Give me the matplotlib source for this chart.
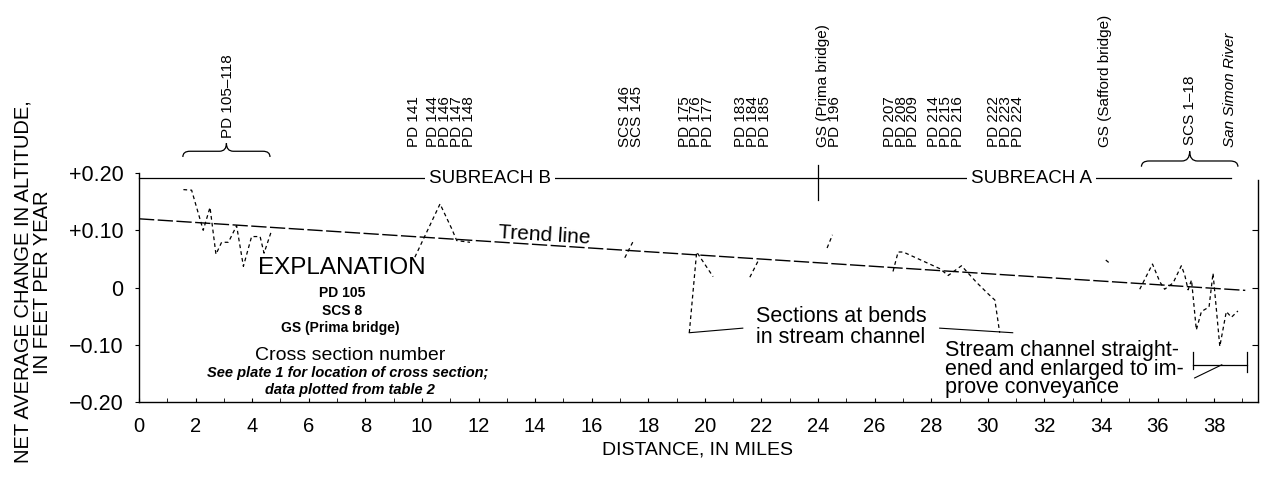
import numpy as np
import matplotlib.pyplot as plt
from matplotlib.path import Path
from matplotlib.patches import PathPatch
from matplotlib.ticker import MultipleLocator

plt.rcParams['font.family'] = ['Liberation Sans', 'DejaVu Sans']

# cross sections, distance in miles / net average change in ft per year
pd105_mi = [1.57, 1.86, 2.27, 2.51, 2.72, 2.92, 3.16, 3.45, 3.69, 3.98, 4.28, 4.42, 4.69]
pd105_val = [0.171, 0.170, 0.100, 0.140, 0.058, 0.079, 0.079, 0.108, 0.037, 0.089, 0.089, 0.060, 0.100]

pd141_mi = [9.75, 10.64, 11.05, 11.23, 11.70]
pd141_val = [0.053, 0.146, 0.103, 0.082, 0.079]

scs145_mi = [17.17, 17.49]
scs145_val = [0.052, 0.083]

pd175_mi = [19.45, 19.71, 20.29]
pd175_val = [-0.079, 0.062, 0.019]

pd183_mi = [21.59, 21.92]
pd183_val = [0.018, 0.050]

pd196_mi = [24.32, 24.51]
pd196_val = [0.069, 0.092]

pd207_mi = [26.65, 26.83, 27.01, 28.30, 28.60, 29.07, 29.60, 30.01, 30.25, 30.42]
pd207_val = [0.028, 0.062, 0.062, 0.033, 0.021, 0.038, 0.009, -0.011, -0.022, -0.079]

safford_mi = [34.17, 34.34]
safford_val = [0.048, 0.041]

scs1_mi = [35.37, 35.82, 36.08, 36.25, 36.55, 36.84, 36.96, 37.08, 37.20, 37.37,
           37.55, 37.82, 37.96, 38.20, 38.43, 38.61, 38.84]
scs1_val = [-0.003, 0.041, 0.010, -0.003, 0.008, 0.038, 0.022, -0.004, 0.013, -0.074,
            -0.042, -0.034, 0.025, -0.103, -0.042, -0.052, -0.041]

trend_mi = [0.0, 39.1]
trend_val = [0.12, -0.005]

subreach_val = 0.191
subreach_end = 38.6
subreach_split = 24.0

# cross section labels along the top, grouped as they are printed side by side
top_groups = [["PD 141"],
              ["PD 144", "PD 146", "PD 147", "PD 148"],
              ["SCS 146", "SCS 145"],
              ["PD 175", "PD 176", "PD 177"],
              ["PD 183", "PD 184", "PD 185"],
              ["GS (Prima bridge)", "PD 196"],
              ["PD 207", "PD 208", "PD 209"],
              ["PD 214", "PD 215", "PD 216"],
              ["PD 222", "PD 223", "PD 224"],
              ["GS (Safford bridge)"]]
top_group_mi = [[9.72],
                [10.39, 10.81, 11.24, 11.66],
                [17.17, 17.63],
                [19.29, 19.72, 20.10],
                [21.34, 21.70, 22.08],
                [24.17, 24.59],
                [26.54, 26.96, 27.35],
                [28.13, 28.52, 28.90],
                [30.25, 30.64, 31.02],
                [34.13]]

yticks = [0.2, 0.1, 0.0, -0.1, -0.2]
ytick_labels = ["+0.20", "+0.10", "0", "\u22120.10", "\u22120.20"]


def brace(ax, x0, x1, y_end, y_flat, y_tip):
    xm = (x0 + x1) / 2
    w = (x1 - x0) * 0.08
    verts = [(x0, y_end), (x0, y_flat), (x0 + w, y_flat),
             (xm - w, y_flat), (xm, y_flat), (xm, y_tip),
             (xm, y_flat), (xm + w, y_flat),
             (x1 - w, y_flat), (x1, y_flat), (x1, y_end)]
    codes = [Path.MOVETO, Path.CURVE3, Path.CURVE3,
             Path.LINETO, Path.CURVE3, Path.CURVE3,
             Path.CURVE3, Path.CURVE3,
             Path.LINETO, Path.CURVE3, Path.CURVE3]
    ax.add_patch(PathPatch(Path(verts, codes), fill=False, lw=0.9,
                           ec='black', clip_on=False))


fig = plt.figure(figsize=(12.67, 4.83), dpi=100)
ax = fig.add_axes([0.1097, 0.1677, 0.8832, 0.4741])
ax.set_xlim(0, 39.55)
ax.set_ylim(-0.2, 0.2)

dash = dict(color='black', lw=0.9, ls=(0, (3, 2.5)))
for xs, ys in [(pd105_mi, pd105_val), (pd141_mi, pd141_val), (scs145_mi, scs145_val),
               (pd175_mi, pd175_val), (pd183_mi, pd183_val), (pd196_mi, pd196_val),
               (pd207_mi, pd207_val), (safford_mi, safford_val), (scs1_mi, scs1_val)]:
    ax.plot(xs, ys, **dash)

ax.plot(trend_mi, trend_val, color='black', lw=1.0, ls=(0, (11, 2.5)))

# subreach line
ax.plot([0, subreach_end], [subreach_val, subreach_val], color='black', lw=0.9,
        clip_on=False)
ax.plot([subreach_split, subreach_split], [0.153, 0.214], color='black', lw=0.9,
        clip_on=False)
box = dict(facecolor='white', edgecolor='none', pad=3)
ax.text(12.4, subreach_val, "SUBREACH B", fontsize=13.5, ha='center', va='center',
        bbox=box, zorder=4)
ax.text(31.55, subreach_val, "SUBREACH A", fontsize=13.5, ha='center', va='center',
        bbox=box, zorder=4)

lab = dict(rotation=90, fontsize=11, ha='center', va='bottom', clip_on=False,
           multialignment='left', linespacing=0.8)
for names, mis in zip(top_groups, top_group_mi):
    ax.text(np.mean(mis), 0.245, "\n".join(names), **lab)
ax.text(3.15, 0.262, "PD 105\u2013118", **lab)
ax.text(37.14, 0.249, "SCS 1\u201318", **lab)
ax.text(38.55, 0.245, "San Simon River", style='italic', **lab)
brace(ax, 1.55, 4.63, 0.228, 0.238, 0.252)
brace(ax, 35.43, 38.84, 0.211, 0.221, 0.238)

# annotations
ax.text(12.69, 0.080, "Trend line", fontsize=15, ha='left', va='bottom',
        rotation=-3.5, rotation_mode='anchor')

ax.text(7.17, 0.034, "EXPLANATION", fontsize=17.5, ha='center', va='center')
ax.text(7.17, -0.010, "PD 105", fontsize=10, weight='bold', ha='center', va='center')
ax.text(7.17, -0.041, "SCS 8", fontsize=10, weight='bold', ha='center', va='center')
ax.text(7.10, -0.071, "GS (Prima bridge)", fontsize=10, weight='bold', ha='center',
        va='center')
ax.text(7.46, -0.118, "Cross section number", fontsize=14, ha='center', va='center')
ax.text(7.39, -0.149, "See plate 1 for location of cross section;", fontsize=10.5,
        style='italic', weight='bold', ha='center', va='center')
ax.text(7.46, -0.179, "data plotted from table 2", fontsize=10.5,
        style='italic', weight='bold', ha='center', va='center')

ax.text(24.81, -0.069, "Sections at bends\nin stream channel", fontsize=15.5,
        ha='center', va='center', linespacing=0.95)
ax.plot([19.45, 21.34], [-0.079, -0.071], color='black', lw=0.8)
ax.plot([28.30, 30.88], [-0.071, -0.079], color='black', lw=0.8)

ax.text(28.48, -0.143, "Stream channel straight-\nened and enlarged to im-\nprove conveyance",
        fontsize=15.5, ha='left', va='center', linespacing=0.85)
ax.plot([37.24, 39.15], [-0.135, -0.135], color='black', lw=0.9)
ax.plot([37.24, 37.24], [-0.113, -0.142], color='black', lw=0.9)
ax.plot([39.15, 39.15], [-0.113, -0.147], color='black', lw=0.9)
ax.plot([37.31, 38.27], [-0.158, -0.135], color='black', lw=0.8)

# axes styling
ax.spines['top'].set_visible(False)
ax.spines['right'].set_visible(False)
for s in ['left', 'bottom']:
    ax.spines[s].set_linewidth(1.0)
ax.set_yticks(yticks)
ax.set_yticklabels(ytick_labels, fontsize=15.5)
ax.tick_params(axis='y', direction='out', length=3, pad=8)
ax.xaxis.set_major_locator(MultipleLocator(2))
ax.xaxis.set_minor_locator(MultipleLocator(1))
ax.tick_params(axis='x', which='both', direction='in', length=3, labelsize=14.5, pad=11)

sec = ax.secondary_yaxis('right')
sec.set_yticks([0.1, 0.0, -0.1])
sec.tick_params(direction='in', length=4, labelright=False)
sec.spines['right'].set_bounds(-0.2, 0.188)
sec.spines['right'].set_linewidth(1.0)

fig.text(33 / 1267, 1 - 282 / 483, "NET AVERAGE CHANGE IN ALTITUDE,\nIN FEET PER YEAR",
         rotation=90, fontsize=14.5, ha='center', va='center', multialignment='center',
         linespacing=1.0)
fig.text(698 / 1267, 1 - 450 / 483, "DISTANCE, IN MILES", fontsize=14,
         ha='center', va='center')

fig.savefig("out.png", dpi=100)
